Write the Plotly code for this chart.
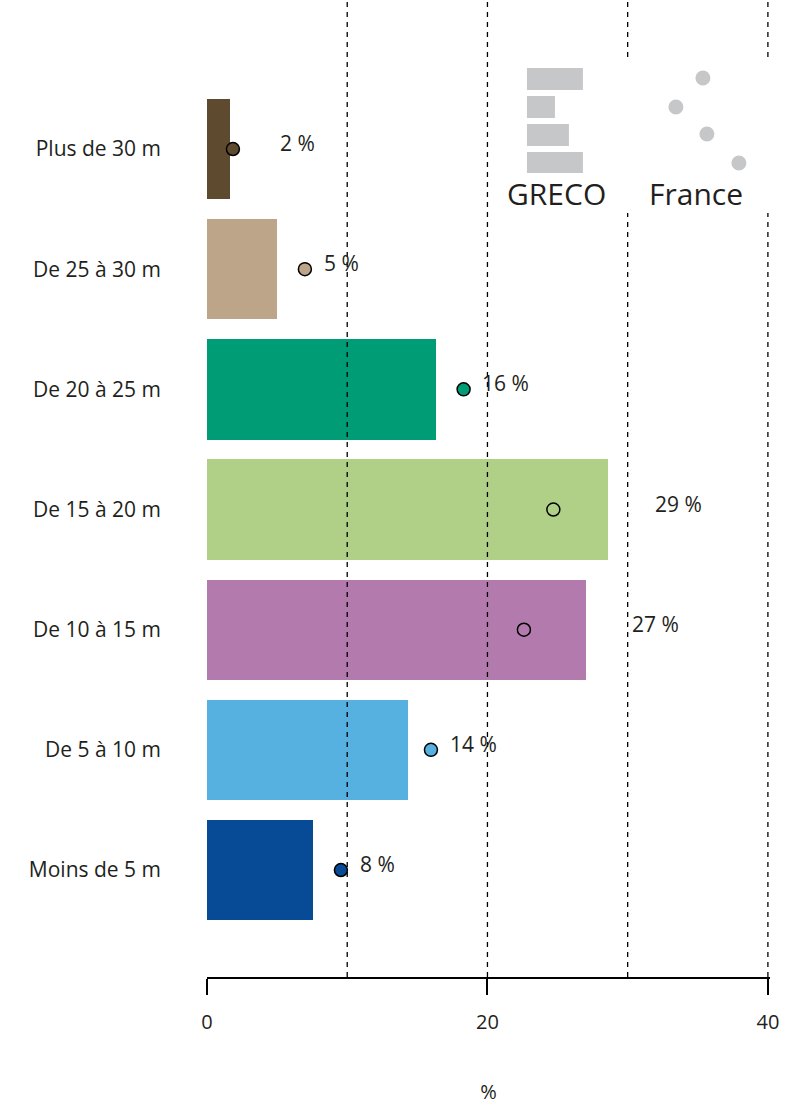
import plotly.graph_objects as go

# Tree height classes, bottom to top
classes = ["Moins de 5 m", "De 5 à 10 m", "De 10 à 15 m", "De 15 à 20 m",
           "De 20 à 25 m", "De 25 à 30 m", "Plus de 30 m"]
# Share of stems per height class (%)
greco = [7.55, 14.3, 27.0, 28.6, 16.3, 5.0, 1.64]
france = [9.55, 15.97, 22.6, 24.7, 18.3, 6.98, 1.85]
colors = ["#074a96", "#56b0e0", "#b37bad", "#b0d088", "#009c76", "#bca588", "#5e4a2e"]
x_ticks = [0, 20, 40]
grid_vals = [10, 20, 30, 40]

FONT = "Open Sans"
TXT = "#231f20"
GREY = "#c6c7c9"

X_MAX = 40.15
Y_RANGE = [-0.89, 7.24]
PX_X = (768 - 207) / 40.0          # pixels per unit along x
PLOT_H = 977                          # plot area height in pixels


def px_to_x(px):
    return (px - 207) / PX_X


def px_to_py(py):
    return 1 - py / PLOT_H


ypos = list(range(len(classes)))

fig = go.Figure()

# GRECO bars
fig.add_trace(go.Bar(
    x=greco, y=ypos, orientation="h", width=0.835,
    marker=dict(color=colors, line=dict(width=0)),
    hoverinfo="skip", showlegend=False,
))

# dashed vertical reference lines, drawn over the bars
for g in grid_vals:
    fig.add_trace(go.Scatter(
        x=[g, g], y=Y_RANGE, mode="lines",
        line=dict(color="#000000", width=1.3, dash="5px,5px"),
        hoverinfo="skip", showlegend=False,
    ))

# France points
fig.add_trace(go.Scatter(
    x=france, y=ypos, mode="markers",
    marker=dict(size=13, color=colors, line=dict(color="#000000", width=1.5)),
    hoverinfo="skip", showlegend=False, cliponaxis=False,
))

# value labels to the right of the bar / point
annotations = []
for i, (g, f) in enumerate(zip(greco, france)):
    gap = 1.2 if f - g > 1 else 3.2
    annotations.append(dict(
        x=max(g, f) + gap, y=i, xref="x", yref="y",
        text=f"{round(g)} %", showarrow=False, xanchor="left", yanchor="middle",
        yshift=6, font=dict(family=FONT, size=21, color=TXT),
    ))

# key: grey bars for GRECO, grey dots for France
shapes = [dict(type="rect", xref="x", yref="paper",
               x0=px_to_x(500), x1=px_to_x(790), y0=px_to_py(213), y1=px_to_py(62),
               fillcolor="#ffffff", line=dict(width=0), layer="above")]
key_bars = [(68, 90, 583), (96, 118, 555), (124, 146, 569), (152, 173, 583)]
for top, bot, right in key_bars:
    shapes.append(dict(type="rect", xref="x", yref="paper",
                       x0=px_to_x(527), x1=px_to_x(right),
                       y0=px_to_py(bot), y1=px_to_py(top),
                       fillcolor=GREY, line=dict(width=0), layer="above"))
key_dots = [(703, 78), (676, 107), (707, 134), (739, 163)]
r = 7.5
for cx, cy in key_dots:
    shapes.append(dict(type="circle", xref="x", yref="paper",
                       x0=px_to_x(cx - r), x1=px_to_x(cx + r),
                       y0=px_to_py(cy + r), y1=px_to_py(cy - r),
                       fillcolor=GREY, line=dict(width=0), layer="above"))

annotations.append(dict(x=px_to_x(557), y=px_to_py(193), xref="x", yref="paper",
                        text="GRECO", showarrow=False, xanchor="center", yanchor="middle",
                        font=dict(family=FONT, size=30, color=TXT)))
annotations.append(dict(x=px_to_x(696), y=px_to_py(193), xref="x", yref="paper",
                        text="France", showarrow=False, xanchor="center", yanchor="middle",
                        font=dict(family=FONT, size=30, color=TXT)))

fig.update_layout(
    width=794, height=1105,
    margin=dict(l=207, r=24, t=0, b=128),
    paper_bgcolor="#ffffff", plot_bgcolor="#ffffff",
    bargap=0,
    font=dict(family=FONT, size=20, color=TXT),
    shapes=shapes, annotations=annotations,
    xaxis=dict(
        range=[0, X_MAX], tickvals=x_ticks, ticktext=[str(t) for t in x_ticks],
        showgrid=False, zeroline=False, showline=True, linecolor="#000000", linewidth=1.5,
        ticks="outside", ticklen=16, tickwidth=1.5, tickcolor="#000000",
        ticklabelstandoff=10,
        tickfont=dict(family=FONT, size=20, color=TXT),
        title=dict(text="%", standoff=52, font=dict(family=FONT, size=20, color=TXT)),
        fixedrange=True,
    ),
    yaxis=dict(
        range=Y_RANGE, tickvals=ypos, ticktext=classes,
        showgrid=False, zeroline=False, showline=False, ticks="",
        ticklabelstandoff=45,
        tickfont=dict(family=FONT, size=21, color=TXT),
        fixedrange=True,
    ),
)

fig.write_html("out.html")
